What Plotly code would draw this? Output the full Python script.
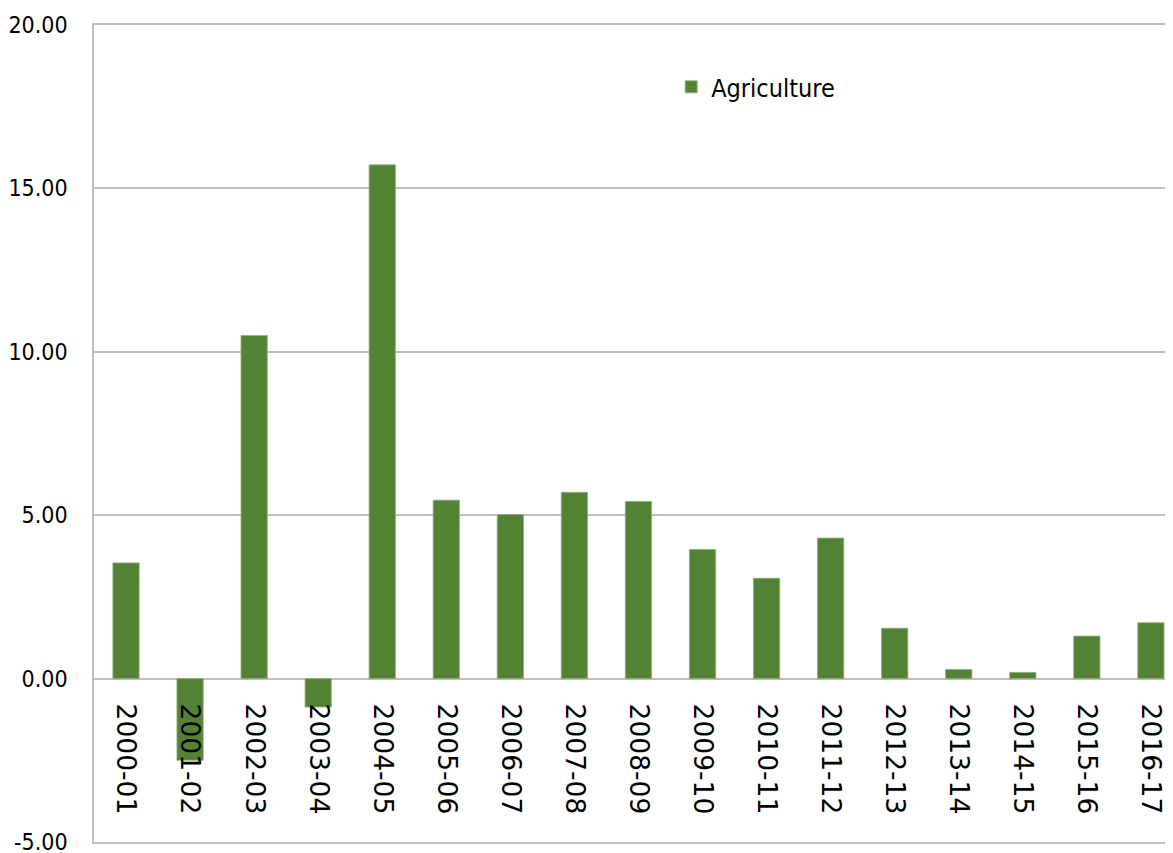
import plotly.graph_objects as go

years = ["2000-01", "2001-02", "2002-03", "2003-04", "2004-05", "2005-06", "2006-07",
         "2007-08", "2008-09", "2009-10", "2010-11", "2011-12", "2012-13", "2013-14",
         "2014-15", "2015-16", "2016-17"]
agriculture = [3.54, -2.50, 10.50, -0.87, 15.72, 5.46, 5.02, 5.70, 5.42, 3.95, 3.07,
               4.30, 1.54, 0.28, 0.19, 1.30, 1.71]
y_ticks = [-5, 0, 5, 10, 15, 20]
y_tick_labels = ["-5.00", "0.00", "5.00", "10.00", "15.00", "20.00"]

GREEN = "#548235"
GRID = "#bfbfbf"
NARROW = "DejaVu Sans Condensed, Lato, sans-serif"

fig = go.Figure()
fig.add_trace(go.Bar(
    x=list(range(len(years))), y=agriculture, name="Agriculture",
    marker=dict(color=GREEN, line=dict(color="#8fae78", width=0.8)),
))
# empty helper trace so the frame axis (top/bottom border lines) is drawn
fig.add_trace(go.Scatter(x=[None], y=[None], xaxis="x2", yaxis="y",
                         showlegend=False, hoverinfo="skip", mode="markers"))

xr = [-0.5, 16.47]
fig.update_layout(
    width=1173, height=853,
    margin=dict(l=86, r=0, t=17, b=19, autoexpand=False),
    paper_bgcolor="white", plot_bgcolor="white",
    bargap=0.59,
    showlegend=True,
    legend=dict(x=0.531, y=0.924, xanchor="left", yanchor="middle",
                font=dict(family=NARROW, size=25, color="black"),
                bgcolor="rgba(0,0,0,0)"),
    xaxis=dict(
        range=xr,
        tickmode="array", tickvals=list(range(len(years))), ticktext=years,
        tickangle=90,
        tickfont=dict(family="DejaVu Sans", size=26.5, color="black"),
        showgrid=False, zeroline=False, showline=False, ticks="",
        anchor="free", position=0.2, ticklabelstandoff=24, automargin=False,
    ),
    xaxis2=dict(
        range=xr, overlaying="x", anchor="y", side="bottom",
        showline=True, mirror=True, linecolor=GRID, linewidth=1.5,
        showticklabels=False, showgrid=False, zeroline=False, ticks="",
        automargin=False,
    ),
    yaxis=dict(
        range=[-5, 20], tickmode="array", tickvals=y_ticks, ticktext=y_tick_labels,
        tickfont=dict(family=NARROW, size=23, color="black"),
        showgrid=True, gridcolor=GRID, gridwidth=1.5,
        zeroline=True, zerolinecolor=GRID, zerolinewidth=1.5,
        showline=True, linecolor=GRID, linewidth=1.5,
        ticks="", ticklabelstandoff=20, automargin=False,
    ),
)

fig.write_html("out.html")
